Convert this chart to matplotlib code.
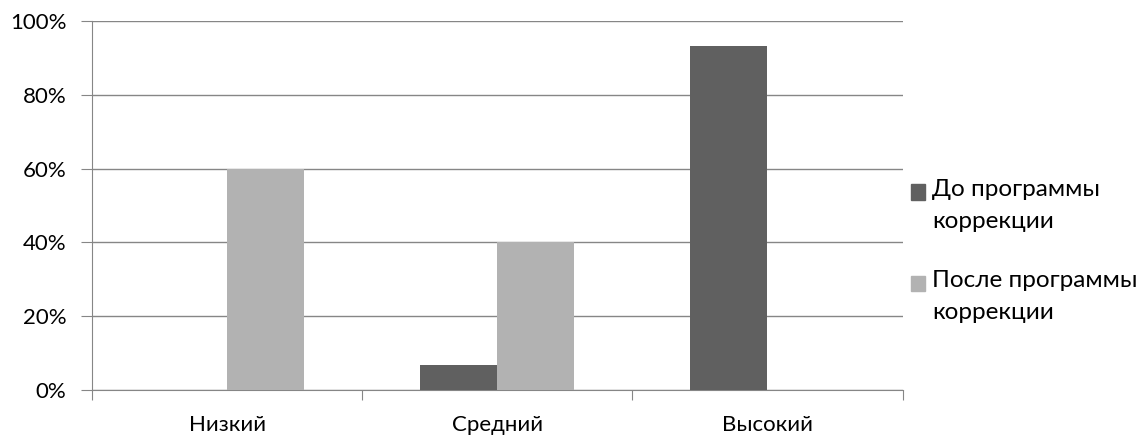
import matplotlib.pyplot as plt
import numpy as np
from matplotlib.patches import Patch, Rectangle
from matplotlib.legend_handler import HandlerPatch
from matplotlib.ticker import PercentFormatter

plt.rcParams['font.family'] = ['Lato', 'DejaVu Sans']

categories = ['Низкий', 'Средний', 'Высокий']
before = [0, 6.67, 93.33]
after = [60, 40, 0]
labels = ['До программы\nкоррекции', 'После программы\nкоррекции']
colors = ['#606060', '#b2b2b2']

fig = plt.figure(figsize=(11.44, 4.36), dpi=100)
ax = fig.add_axes([0.0804, 0.1055, 0.7085, 0.8463])

x = np.arange(len(categories))
w = 0.285
ax.bar(x - w / 2, before, w, color=colors[0], zorder=3)
ax.bar(x + w / 2, after, w, color=colors[1], zorder=3)

ax.set_xlim(-0.5, 2.5)
ax.set_ylim(0, 100)
ax.set_yticks(range(0, 101, 20))
ax.yaxis.set_major_formatter(PercentFormatter(decimals=0))
ax.set_xticks([-0.5, 0.5, 1.5, 2.5])
ax.set_xticklabels([])
ax.set_xticks(x, minor=True)
ax.set_xticklabels(categories, minor=True)
ax.tick_params(axis='x', which='minor', length=0, pad=18, labelsize=16)
ax.tick_params(axis='x', which='major', length=7, color='#868686', direction='out')
ax.tick_params(axis='y', length=8, color='#868686', labelsize=16, pad=10.5)

ax.grid(axis='y', color='#868686', linewidth=1, zorder=0)
for s in ['top', 'right']:
    ax.spines[s].set_visible(False)
for s in ['left', 'bottom']:
    ax.spines[s].set_color('#868686')


# square sits next to the first line of the label, like Excel does
def top_square(legend, orig_handle, xdescent, ydescent, width, height, fontsize):
    return Rectangle((-xdescent, -ydescent + 9.5), width, height)


handles = [Patch(color=c) for c in colors]
leg = fig.legend(handles, labels, loc='center left', bbox_to_anchor=(0.796, 1 - 251 / 436),
                 frameon=False, fontsize=17.5, handlelength=0.6, handleheight=0.6,
                 handletextpad=0.3, labelspacing=1.6, borderpad=0, borderaxespad=0,
                 handler_map={Patch: HandlerPatch(patch_func=top_square)})
for t in leg.get_texts():
    t.set_linespacing(1.6)

fig.savefig('out.png')
